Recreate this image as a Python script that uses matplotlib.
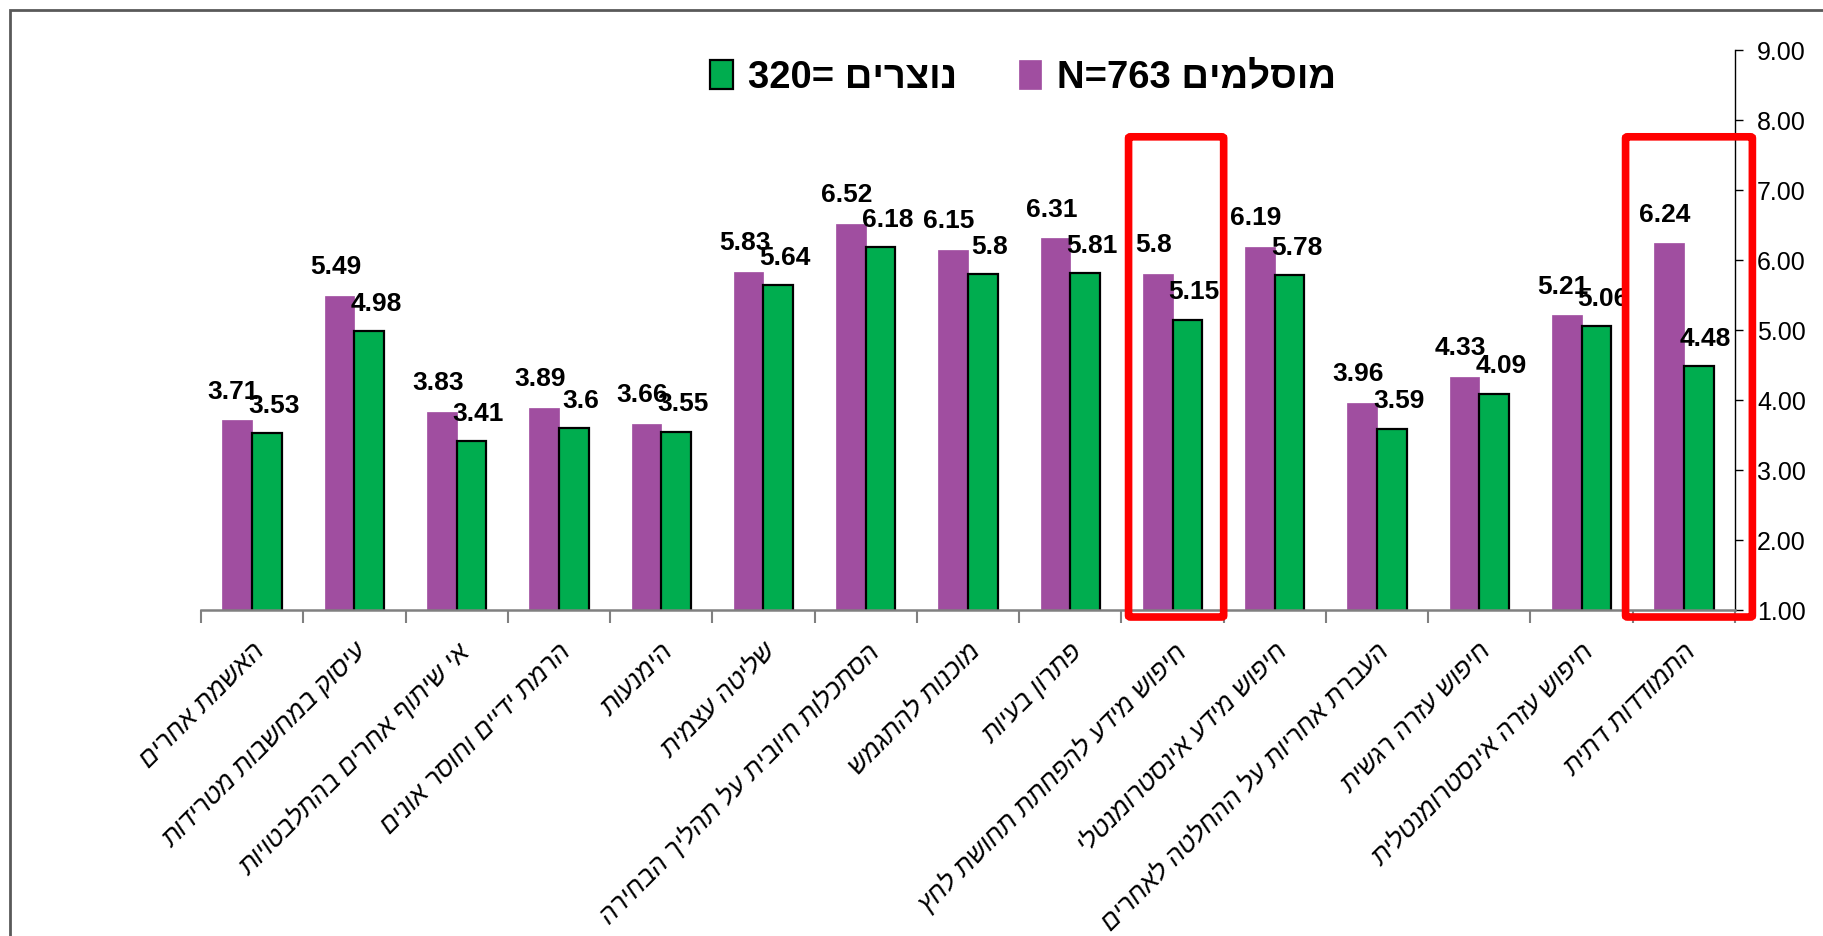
import matplotlib
matplotlib.use("Agg")
import matplotlib.pyplot as plt
import numpy as np
from matplotlib.patches import Rectangle, FancyBboxPatch

plt.rcParams['font.family'] = ['Liberation Sans', 'DejaVu Sans']

# ---------------- data ----------------
categories = [
    "האשמת אחרים",
    "עיסוק במחשבות מטרידות",
    "אי שיתוף אחרים בהתלבטויות",
    "הרמת ידיים וחוסר אונים",
    "הימנעות",
    "שליטה עצמית",
    "הסתכלות חיובית על תהליך הבחירה",
    "מוכנות להתגמש",
    "פתרון בעיות",
    "חיפוש מידע להפחתת תחושת לחץ",
    "חיפוש מידע אינסטרומנטלי",
    "העברת אחריות על ההחלטה לאחרים",
    "חיפוש עזרה רגשית",
    "חיפוש עזרה אינסטרומנטלית",
    "התמודדות דתית",
]
muslims = [3.71, 5.49, 3.83, 3.89, 3.66, 5.83, 6.52, 6.15, 6.31, 5.8, 6.19, 3.96, 4.33, 5.21, 6.24]
christians = [3.53, 4.98, 3.41, 3.6, 3.55, 5.64, 6.18, 5.8, 5.81, 5.15, 5.78, 3.59, 4.09, 5.06, 4.48]
muslim_word = "מוסלמים"
christian_word = "נוצרים"
muslim_n = "N=763"
christian_n = "320="
yticks = [1, 2, 3, 4, 5, 6, 7, 8, 9]
highlighted = [9, 14]


def vis(s):
    """Hebrew logical order -> visual order (matplotlib has no bidi)."""
    return s[::-1]


PURPLE = "#A04EA0"
GREEN = "#00AD4F"

fig = plt.figure(figsize=(18.24, 9.36), dpi=100)
ax = fig.add_axes([201 / 1824, (936 - 610) / 936, 1534 / 1824, 560 / 936])

n = len(categories)
x = np.arange(n) + 0.5
w = 0.29

bp = ax.bar(x - w / 2, muslims, width=w, color=PURPLE, edgecolor=PURPLE, linewidth=0.5, zorder=2)
bg = ax.bar(x + w / 2, christians, width=w, color=GREEN, edgecolor="black", linewidth=1.6, zorder=2)

ax.set_xlim(0, n)
ax.set_ylim(1, 9)

# data labels
for xi, v in zip(x, muslims):
    ax.annotate(f"{v:g}", (xi - w / 2, v), xytext=(-3, 12), textcoords="offset points",
                ha="center", va="bottom", fontsize=19, fontweight="bold", zorder=4)
for xi, v in zip(x, christians):
    ax.annotate(f"{v:g}", (xi + w / 2, v), xytext=(5, 11), textcoords="offset points",
                ha="center", va="bottom", fontsize=19, fontweight="bold", zorder=4)

# y axis on the right
ax.yaxis.tick_right()
ax.set_yticks(yticks)
ax.set_yticklabels([f"{t:.2f}" for t in yticks], fontsize=18)
ax.tick_params(axis="y", direction="out", length=6, width=1, pad=10, colors="black")

# x axis: ticks at category boundaries, labels at centers
ax.set_xticks(np.arange(n + 1))
ax.set_xticklabels([])
ax.tick_params(axis="x", which="major", direction="out", length=9, width=1.5, color="#808080")
ax.set_xticks(x, minor=True)
ax.set_xticklabels([vis(c) for c in categories], minor=True, rotation=45,
                   ha="right", va="top", rotation_mode="anchor",
                   fontsize=18.5, style="italic")
ax.tick_params(axis="x", which="minor", length=0, pad=21)

for s in ["top", "left"]:
    ax.spines[s].set_visible(False)
ax.spines["bottom"].set_color("#808080")
ax.spines["bottom"].set_linewidth(1.8)
ax.spines["right"].set_color("black")
ax.spines["right"].set_linewidth(1.0)

# legend
leg = fig.legend([bg[0], bp[0]],
                 [christian_n + " " + vis(christian_word), muslim_n + " " + vis(muslim_word)],
                 loc="center", bbox_to_anchor=(1023 / 1824, 1 - 78 / 936), ncol=2, frameon=False,
                 prop={"size": 27.5, "weight": "bold"}, handlelength=0.6, handleheight=0.8,
                 handletextpad=0.4, columnspacing=1.6)

# red highlight boxes
offsets = {9: (-0.43, 0.50), 14: (-0.57, 0.67)}
for i in highlighted:
    l, r = offsets[i]
    rect = FancyBboxPatch((x[i] + l, 0.9), r - l, 7.76 - 0.9,
                          boxstyle="round,pad=0,rounding_size=0.02",
                          fill=False, edgecolor="#FF0000", linewidth=5.5,
                          clip_on=False, zorder=5, mutation_aspect=1)
    ax.add_patch(rect)

# figure border
fig.add_artist(Rectangle((10 / 1824, -0.05), 1.2, 1 - 10 / 936 + 0.05, transform=fig.transFigure,
                         fill=False, edgecolor="#595959", linewidth=2))

fig.savefig("out.png", dpi=100)
